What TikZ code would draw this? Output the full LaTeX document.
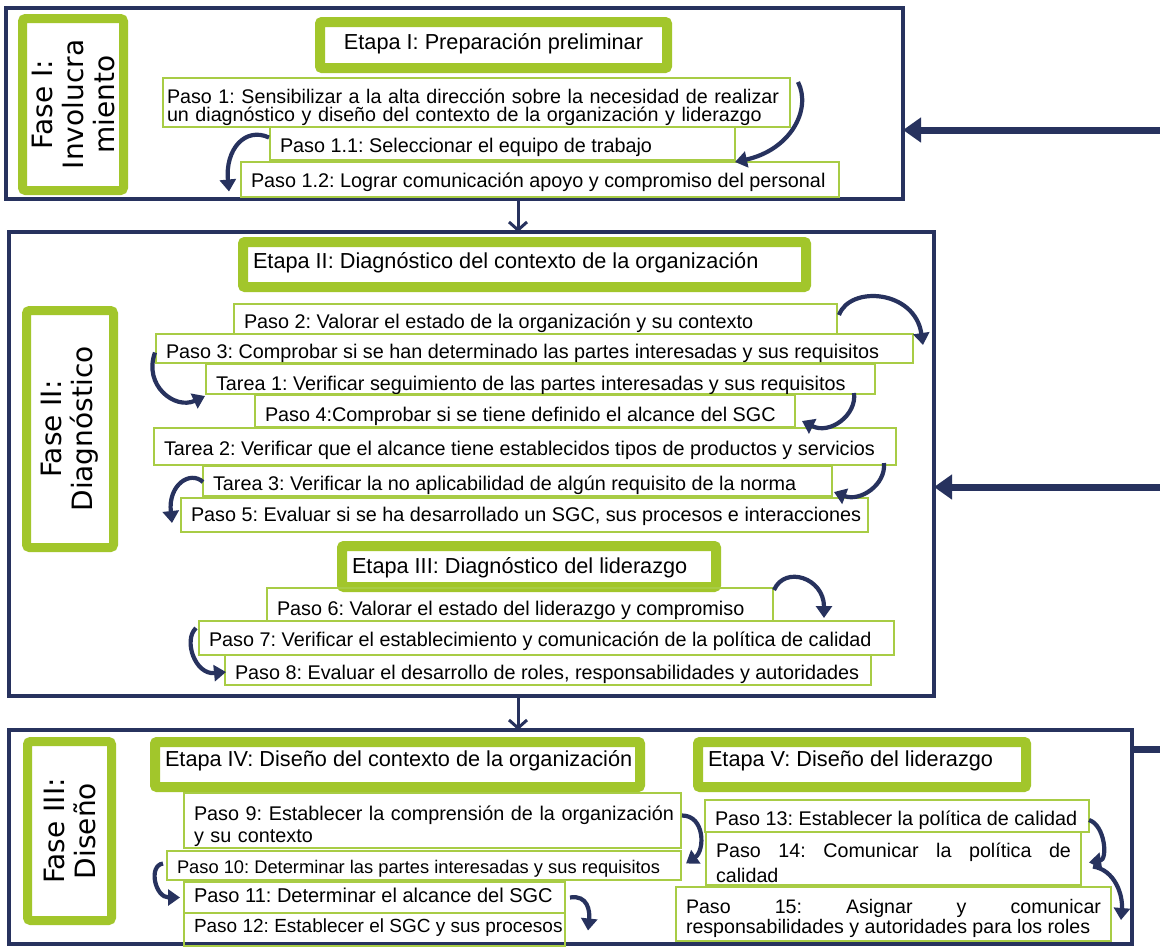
\documentclass[tikz,border=0pt]{standalone}
\usepackage{fontspec}
\setmainfont{Liberation Sans}
\newfontfamily\fasefont{DejaVu Sans}
\usetikzlibrary{arrows.meta}
\definecolor{navy}{HTML}{27325E}
\definecolor{limeg}{HTML}{A2C62B}
\definecolor{limet}{HTML}{A8CC45}
\newcommand{\onel}[2]{\makebox[#1][l]{#2}}
\newcommand{\tightls}{\lineskiplimit-100pt\relax}
\tikzset{
  outerbox/.style={draw=navy, line width=3.5pt, anchor=north west, outer sep=0pt, inner sep=0pt},
  fasebox/.style={draw=limeg, line width=9pt, rounded corners=3pt, fill=white, outer sep=0pt, inner sep=0pt, align=center, rotate=90, font=\fasefont\fontsize{28}{31}\selectfont},
  etapabox/.style={draw=limeg, line width=10pt, rounded corners=2pt, fill=white, anchor=north west, outer sep=0pt, inner xsep=10pt, inner ysep=0pt, text height=14pt, text depth=6pt, font=\fontsize{21.7}{24}\selectfont},
  pasobox/.style={draw=limet, line width=1.3pt, anchor=north west, outer sep=0pt, inner xsep=10pt, inner ysep=0pt, font={\fontsize{19.8}{22}\selectfont\tightls}},
  bl/.style 2 args={text height=#1pt, text depth=#2pt},
  curv/.style={draw=navy, line width=4.2pt, -{Triangle[length=12pt,width=16pt]}},
  downarrow/.style={draw=navy, line width=3pt, -{Straight Barb[length=8pt,width=18pt]}},
  feedline/.style={draw=navy, line width=7pt},
  feedarrow/.style={draw=navy, line width=7pt, -{Triangle[length=18pt,width=24pt]}},
}
\begin{document}
\frenchspacing
\begin{tikzpicture}[x=1pt,y=-1pt]
\useasboundingbox (0,0) rectangle (1160,946);
\fill[white] (0,0) rectangle (1160,946);

% outer phase boxes
\node[outerbox, minimum width=897pt, minimum height=191pt] (box1) at (6,8) {};
\node[outerbox, minimum width=925pt, minimum height=464pt] (box2) at (9,232) {};
\node[outerbox, minimum width=1123pt, minimum height=214pt] (box3) at (9,730) {};

% phase labels
\node[fasebox, minimum width=172pt, minimum height=101pt] (f1) at (73,104.5) {Fase I:\\Involucra\\miento};
\node[fasebox, minimum width=237pt, minimum height=87pt] (f2) at (70,429) {Fase II:\\Diagnóstico};
\node[fasebox, minimum width=179pt, minimum height=84pt] (f3) at (69.5,831) {Fase III:\\Diseño};

% stages
\node[etapabox, minimum width=347pt, minimum height=46pt] (e1) at (320,22) {Etapa I: Preparación preliminar};
\node[etapabox, minimum width=563pt, minimum height=45pt] (e2) at (243,242) {\onel{543pt}{Etapa II: Diagnóstico del contexto de la organización}};
\node[etapabox, minimum width=374pt, minimum height=41pt, bl={16.5}{3.5}] (e3) at (342,546) {\onel{354pt}{Etapa III: Diagnóstico del liderazgo}};
\node[etapabox, minimum width=485pt, minimum height=45pt, bl={12}{8}] (e4) at (155,742) {\onel{465pt}{Etapa IV: Diseño del contexto de la organización}};
\node[etapabox, minimum width=328pt, minimum height=45pt, bl={12}{8}] (e5) at (698,742) {\onel{308pt}{Etapa V: Diseño del liderazgo}};

% steps, phase I
\node[pasobox, inner xsep=4pt, minimum width=627pt, minimum height=49pt, text width=619pt, align=left, font={\fontsize{19.7}{18}\selectfont\tightls}] (p1) at (163,78) {\rule{0pt}{25pt}\mbox{Paso 1: Sensibilizar a la alta dirección sobre la necesidad de realizar}\\\mbox{un diagnóstico y diseño del contexto de la organización y liderazgo}\rule[-6pt]{0pt}{0pt}};
\node[pasobox, minimum width=465pt, minimum height=33pt, bl={22.5}{5.5}] (p11) at (270,127) {\onel{445pt}{Paso 1.1: Seleccionar el equipo de trabajo}};
\node[pasobox, minimum width=598pt, minimum height=35pt, bl={21.5}{6.5}] (p12) at (241,162) {\onel{578pt}{Paso 1.2: Lograr comunicación apoyo y compromiso del personal}};

% steps, phase II
\node[pasobox, minimum width=603pt, minimum height=30pt, bl={23}{5}] (p2) at (234,304) {\onel{583pt}{Paso 2: Valorar el estado de la organización y su contexto}};
\node[pasobox, minimum width=757pt, minimum height=29pt, bl={23.5}{4.5}] (p3) at (156,334) {\onel{737pt}{Paso 3: Comprobar si se han determinado las partes interesadas y sus requisitos}};
\node[pasobox, minimum width=669pt, minimum height=30pt, bl={25}{3}] (t1) at (206,364) {\onel{649pt}{Tarea 1: Verificar seguimiento de las partes interesadas y sus requisitos}};
\node[pasobox, minimum width=540pt, minimum height=32pt, bl={24.7}{3.3}] (p4) at (255,395) {\onel{520pt}{Paso 4:Comprobar si se tiene definido el alcance del SGC}};
\node[pasobox, minimum width=742pt, minimum height=37pt, bl={22.5}{5.5}] (t2) at (154,428) {\onel{722pt}{Tarea 2: Verificar que el alcance tiene establecidos tipos de productos y servicios}};
\node[pasobox, minimum width=629pt, minimum height=30pt, bl={23}{5}] (t3) at (203,466) {\onel{609pt}{Tarea 3: Verificar la no aplicabilidad de algún requisito de la norma}};
\node[pasobox, minimum width=687pt, minimum height=34pt, bl={20.7}{7.3}] (p5) at (181,498) {\onel{667pt}{Paso 5: Evaluar si se ha desarrollado un SGC, sus procesos e interacciones}};
\node[pasobox, minimum width=506pt, minimum height=33pt, bl={24.5}{3.5}] (p6) at (267,588) {\onel{486pt}{Paso 6: Valorar el estado del liderazgo y compromiso}};
\node[pasobox, minimum width=695pt, minimum height=34pt, bl={22.7}{5.3}] (p7) at (199,621) {\onel{675pt}{Paso 7: Verificar el establecimiento y comunicación de la política de calidad}};
\node[pasobox, minimum width=646pt, minimum height=30pt, bl={23}{5}] (p8) at (225,655) {\onel{626pt}{Paso 8: Evaluar el desarrollo de roles, responsabilidades y autoridades}};

% steps, phase III
\node[pasobox, minimum width=497pt, minimum height=55pt, text width=477pt, align=left] (p9) at (184,793) {\rule{0pt}{27pt}\mbox{Paso 9: Establecer la comprensión de la organización}\\\mbox{y su contexto}\rule[-6pt]{0pt}{0pt}};
\node[pasobox, minimum width=514pt, minimum height=29pt, bl={21.5}{6.5}, font={\fontsize{18.3}{22}\selectfont}] (p10) at (167,851) {\onel{494pt}{Paso 10: Determinar las partes interesadas y sus requisitos}};
\node[pasobox, minimum width=381pt, minimum height=31pt, bl={18.5}{9.5}, font={\fontsize{20}{22}\selectfont}] (p11b) at (184,882) {\onel{361pt}{Paso 11: Determinar el alcance del SGC}};
\node[pasobox, minimum width=381pt, minimum height=33pt, bl={16.5}{11.5}, font={\fontsize{19}{22}\selectfont}] (p12b) at (184,913) {\onel{361pt}{Paso 12: Establecer el SGC y sus procesos}};
\node[pasobox, minimum width=384pt, minimum height=32pt, bl={23}{5}] (p13) at (705,800) {\onel{364pt}{Paso 13: Establecer la política de calidad}};
\node[pasobox, minimum width=375pt, minimum height=53pt, text width=355pt, align=justify, font={\fontsize{19.7}{25}\selectfont\tightls}] (p14) at (706,832) {\rule{0pt}{25pt}Paso 14: Comunicar la política de\linebreak calidad\rule[-3pt]{0pt}{0pt}};
\node[pasobox, minimum width=435pt, minimum height=54pt, text width=415pt, align=justify, font={\fontsize{19.6}{20}\selectfont\tightls}] (p15) at (676,887) {\rule{0pt}{26pt}Paso 15: Asignar y comunicar\linebreak\mbox{responsabilidades y autoridades para los roles}\rule[-8pt]{0pt}{0pt}};

% curved arrows
\draw[curv] ([shift={(8,4)}]p1.north east) .. controls ([shift={(22,32)}]p1.north east) and ([shift={(55,-10)}]p11.south east) .. ([shift={(0,2)}]p11.south east);
\draw[curv] ([shift={(-1,-6)}]p11.west) .. controls ([shift={(-25,-17)}]p11.west) and ([shift={(-16,-30)}]p12.west) .. ([shift={(-12,12)}]p12.west);
\draw[curv] ([shift={(2,11)}]p2.north east) .. controls ([shift={(13,-19)}]p2.north east) and ([shift={(2,-44)}]p3.north east) .. ([shift={(10,11)}]p3.north east);
\draw[curv] ([shift={(-1,4)}]p3.west) .. controls ([shift={(-13,37)}]p3.west) and ([shift={(-31,16)}]t1.south west) .. ([shift={(-1,2)}]t1.south west);
\draw[curv] ([shift={(-21,-1)}]t1.south east) .. controls ([shift={(-18,21)}]t1.south east) and ([shift={(35,8)}]p4.south east) .. ([shift={(7,-6)}]p4.south east);
\draw[curv] ([shift={(-12,-2)}]t2.south east) .. controls ([shift={(-10,20)}]t2.south east) and ([shift={(28,6)}]t3.south east) .. ([shift={(2,-4)}]t3.south east);
\draw[curv] ([shift={(0,1)}]t3.west) .. controls ([shift={(-13,-11)}]t3.west) and ([shift={(-13,-30)}]p5.west) .. ([shift={(-9,8)}]p5.west);
\draw[curv] ([shift={(1,2)}]p6.north east) .. controls ([shift={(12,-23)}]p6.north east) and ([shift={(51,-43)}]p6.south east) .. ([shift={(51,-3)}]p6.south east);
\draw[curv] ([shift={(-3,7)}]p7.north west) .. controls ([shift={(-16,19)}]p7.north west) and ([shift={(-30,5)}]p8.west) .. ([shift={(1,2)}]p8.west);
\draw[curv] ([shift={(1,-5)}]p9.east) .. controls ([shift={(24,-5)}]p9.east) and ([shift={(24,-15)}]p10.east) .. ([shift={(5,-2)}]p10.east);
\draw[curv] ([shift={(-4,-2)}]p10.west) .. controls ([shift={(-19,0)}]p10.west) and ([shift={(-29,0)}]p11b.west) .. ([shift={(-4,0)}]p11b.west);
\draw[curv] ([shift={(5,0)}]p11b.east) .. controls ([shift={(23,-3)}]p11b.east) and ([shift={(25,-18)}]p12b.east) .. ([shift={(23,1)}]p12b.east);
\draw[curv] ([shift={(0,4)}]p13.east) .. controls ([shift={(16,9)}]p13.east) and ([shift={(27,1)}]p14.east) .. ([shift={(8,4)}]p14.east);
\draw[curv] ([shift={(12,8)}]p14.east) .. controls ([shift={(34,11.5)}]p14.east) and ([shift={(12,-19)}]p15.east) .. ([shift={(10,6)}]p15.east);

% phase-to-phase arrows
\coordinate (dx) at (518,0);
\draw[downarrow] (box1.south -| dx) -- (box2.north -| dx);
\draw[downarrow] (box2.south -| dx) -- (box3.north -| dx);

% feedback lines on the right
\coordinate (fr1) at (1166,130);
\coordinate (fr2) at (1166,487);
\coordinate (fr3) at (1166,749);
\draw[feedarrow] (fr1) -- (fr1 -| box1.east);
\draw[feedarrow] (fr2) -- (fr2 -| box2.east);
\draw[feedline] (box3.east |- fr3) -- (fr3);
\end{tikzpicture}
\end{document}
